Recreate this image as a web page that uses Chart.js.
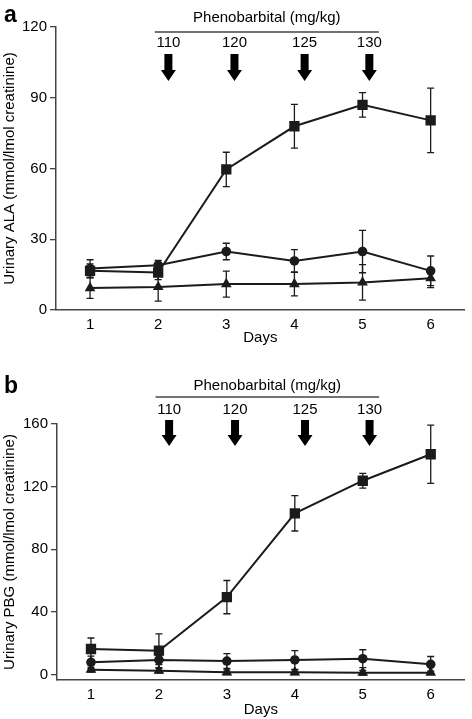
<!DOCTYPE html>
<html>
<head>
<meta charset="utf-8">
<script src="https://cdn.jsdelivr.net/npm/chart.js@4/dist/chart.umd.min.js"></script>
<style>
  body { margin: 0; background: #fff; }
  .panel { position: absolute; left: 0; width: 472px; }
</style>
</head>
<body>
<div class="panel" style="top:0;height:355px"><canvas id="chartA"></canvas></div>
<div class="panel" style="top:355px;height:364px"><canvas id="chartB"></canvas></div>
<script>
// x values (days)
const days = [1, 2, 3, 4, 5, 6];

// panel a - urinary ALA
const alaSquare = [16.6, 15.9, 59.6, 77.9, 87.0, 80.4];
const alaSquareErr = [3, 3, 7.3, 9.3, 5.2, 13.7];
const alaCircle = [17.6, 19.0, 24.8, 20.8, 24.8, 16.6];
const alaCircleErr = [3.7, 2, 3.5, 4.8, 9.0, 6.3];
const alaTriangle = [9.3, 9.8, 11.0, 11.0, 11.7, 13.5];
const alaTriangleErr = [4.4, 6.0, 5.5, 5.0, 7.5, 4.0];
const alaTicks = [0, 30, 60, 90, 120];

// panel b - urinary PBG
const pbgSquare = [16.4, 15.3, 49.5, 103.0, 123.8, 140.7];
const pbgSquareErr = [7, 10.8, 10.6, 11.3, 4.7, 18.6];
const pbgCircle = [7.9, 9.4, 8.7, 9.4, 10.2, 6.6];
const pbgCircleErr = [4, 3, 4.7, 6, 5.7, 5];
const pbgTriangle = [3.2, 2.5, 1.5, 1.5, 1.3, 1.3];
const pbgTriangleErr = [1.5, 1.5, 1.5, 1.5, 1.5, 1.0];
const pbgTicks = [0, 40, 80, 120, 160];

// phenobarbital doses and where the arrows sit on the day axis
const doseLabels = ['110', '120', '125', '130'];
const doseDays = [2.15, 3.12, 4.15, 5.10];
const doseBracket = [1.95, 5.24];

const FONT = 'Liberation Sans, Arial, Helvetica, sans-serif';
const FSIZE = 15;
const INK = '#1b1b1b';
const AXIS = '#444';

// vertical error bars, drawn under the markers
const errorBars = {
  id: 'errorBars',
  beforeDatasetsDraw(chart) {
    const { ctx, scales: { x, y } } = chart;
    ctx.save();
    ctx.strokeStyle = INK;
    ctx.lineWidth = 1.3;
    chart.data.datasets.forEach((ds) => {
      ds.data.forEach((p, i) => {
        const e = ds.errors[i];
        const px = x.getPixelForValue(p.x);
        const top = y.getPixelForValue(p.y + e);
        const bot = y.getPixelForValue(p.y - e);
        ctx.beginPath();
        ctx.moveTo(px, top); ctx.lineTo(px, bot);
        ctx.moveTo(px - 3.5, top); ctx.lineTo(px + 3.5, top);
        ctx.moveTo(px - 3.5, bot); ctx.lineTo(px + 3.5, bot);
        ctx.stroke();
      });
    });
    ctx.restore();
  }
};

// phenobarbital bracket, dose labels, arrows and the panel letter
const doseArrows = {
  id: 'doseArrows',
  afterDraw(chart, args, opts) {
    const { ctx, scales: { x } } = chart;
    ctx.save();
    ctx.fillStyle = '#000';
    ctx.textAlign = 'center';
    ctx.textBaseline = 'middle';
    ctx.font = FSIZE + 'px ' + FONT;
    const x0 = x.getPixelForValue(doseBracket[0]);
    const x1 = x.getPixelForValue(doseBracket[1]);
    ctx.fillText('Phenobarbital (mg/kg)', (x0 + x1) / 2, opts.textY);
    ctx.strokeStyle = AXIS;
    ctx.lineWidth = 1.3;
    ctx.beginPath();
    ctx.moveTo(x0, opts.lineY); ctx.lineTo(x1, opts.lineY);
    ctx.stroke();
    doseDays.forEach((d, i) => {
      const px = x.getPixelForValue(d);
      ctx.fillText(doseLabels[i], px, opts.labelY);
      const t = opts.arrowTop, h = opts.arrowHead, b = opts.arrowTip;
      ctx.beginPath();
      ctx.moveTo(px - 4, t); ctx.lineTo(px + 4, t);
      ctx.lineTo(px + 4, h); ctx.lineTo(px + 7.5, h);
      ctx.lineTo(px, b); ctx.lineTo(px - 7.5, h);
      ctx.lineTo(px - 4, h); ctx.closePath();
      ctx.fill();
    });
    ctx.textAlign = 'left';
    ctx.textBaseline = 'alphabetic';
    ctx.font = 'bold 23px ' + FONT;
    ctx.fillText(opts.letter, 4, opts.letterY);
    ctx.restore();
  }
};

function makeSeries(values, errs, style, radius) {
  return {
    data: days.map((d, i) => ({ x: d, y: values[i] })),
    errors: errs,
    borderColor: INK,
    backgroundColor: INK,
    borderWidth: 2,
    pointStyle: style,
    pointRadius: radius,
    pointBorderWidth: 0,
    pointBackgroundColor: INK,
    tension: 0
  };
}

function makeChart(id, cfg) {
  return new Chart(document.getElementById(id), {
    type: 'line',
    data: {
      datasets: [
        makeSeries(cfg.square, cfg.squareErr, 'rect', 7.3),
        makeSeries(cfg.circle, cfg.circleErr, 'circle', 4.8),
        makeSeries(cfg.triangle, cfg.triangleErr, 'triangle', 6.2)
      ]
    },
    options: {
      animation: false,
      responsive: true,
      maintainAspectRatio: false,
      layout: { padding: { top: cfg.padTop, right: 3, left: 0, bottom: 0 } },
      plugins: {
        legend: { display: false },
        tooltip: { enabled: false },
        doseArrows: cfg.arrows
      },
      scales: {
        x: {
          type: 'linear',
          min: 0.5,
          max: 6.5,
          afterBuildTicks: (s) => { s.ticks = days.map((v) => ({ value: v })); },
          afterFit: (s) => { s.height = cfg.xHeight; },
          grid: { display: false, drawTicks: false },
          border: { display: true, color: AXIS, width: 1.5 },
          ticks: { color: '#000', padding: 6, font: { family: FONT, size: FSIZE } },
          title: { display: true, text: 'Days', color: '#000', padding: { top: 0, bottom: cfg.daysPad }, font: { family: FONT, size: FSIZE } }
        },
        y: {
          min: cfg.yMin,
          max: cfg.yMax,
          afterBuildTicks: (s) => { s.ticks = cfg.ticks.map((v) => ({ value: v })); },
          afterFit: (s) => { s.width = cfg.yWidth; },
          grid: { drawOnChartArea: false, drawTicks: true, tickLength: 6, color: AXIS, lineWidth: 1.3 },
          border: { display: true, color: AXIS, width: 1.5 },
          ticks: { color: '#000', padding: 3, font: { family: FONT, size: FSIZE } },
          title: { display: true, text: cfg.yTitle, color: '#000', padding: { top: 1, bottom: 0 }, font: { family: FONT, size: FSIZE } }
        }
      }
    },
    plugins: [errorBars, doseArrows]
  });
}

makeChart('chartA', {
  square: alaSquare, squareErr: alaSquareErr,
  circle: alaCircle, circleErr: alaCircleErr,
  triangle: alaTriangle, triangleErr: alaTriangleErr,
  ticks: alaTicks, yMin: 0, yMax: 120,
  yTitle: 'Urinary ALA (mmol/lmol creatinine)',
  padTop: 27, xHeight: 45, yWidth: 56, daysPad: 8,
  arrows: { letter: 'a', letterY: 22, textY: 18, lineY: 32, labelY: 43, arrowTop: 54, arrowHead: 70, arrowTip: 81 }
});

makeChart('chartB', {
  square: pbgSquare, squareErr: pbgSquareErr,
  circle: pbgCircle, circleErr: pbgCircleErr,
  triangle: pbgTriangle, triangleErr: pbgTriangleErr,
  ticks: pbgTicks, yMin: -3.4, yMax: 160,
  yTitle: 'Urinary PBG (mmol/lmol creatinine)',
  padTop: 69, xHeight: 39, yWidth: 57, daysPad: 0,
  arrows: { letter: 'b', letterY: 38, textY: 31, lineY: 42, labelY: 55, arrowTop: 65, arrowHead: 80, arrowTip: 91 }
});
</script>
</body>
</html>
